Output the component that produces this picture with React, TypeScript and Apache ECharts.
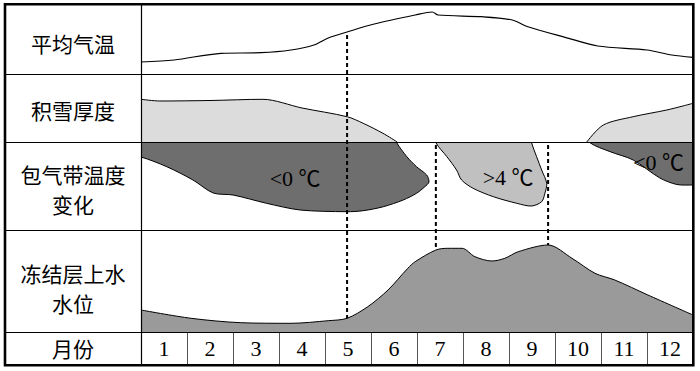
import React, { useEffect, useRef } from "react";
import * as echarts from "echarts";

// ---------- data ----------
const months = ["1", "2", "3", "4", "5", "6", "7", "8", "9", "10", "11", "12"];

const tempMonths = [0, 0.72, 1.74, 2.61, 3.26, 3.76, 4.07, 4.48, 5.07, 5.96, 6.33, 6.46, 7.41, 8.07, 8.41, 9.22, 9.93, 11.0, 11.54, 12];
const tempValues = [12, 14, 20.7, 21.3, 24, 29, 36, 42, 50, 59, 62, 59, 57.3, 54, 47.3, 36.7, 28, 24, 19, 16.7];

const snowEarlyMonths = [0, 0.41, 1.5, 2.65, 3.5, 4.48, 4.83, 5.26, 5.57];
const snowEarlyValues = [42.7, 41, 41.5, 42.7, 34, 25.3, 18.7, 8.7, 0];
const snowLateMonths = [9.69, 10.05, 10.7, 11.43, 11.78, 12];
const snowLateValues = [0, 17, 25.3, 32, 36, 38.7];

const coldEarlyMonths = [-0.3, 0, 0.56, 1.13, 1.57, 2.0, 2.73, 3.46, 4.47, 4.83, 5.27, 5.7, 5.99, 6.17, 6.26, 6.21, 5.99, 5.78, 5.56, 5.5, -0.3];
const coldEarlyValues = [75, 73, 63.3, 50, 37, 35, 26.7, 20, 18.3, 19.3, 23.3, 30, 36.7, 43.3, 48, 55, 63.3, 73.3, 87.3, 96, 96];
const warmMonths = [6.39, 6.41, 6.65, 6.86, 6.97, 7.22, 7.66, 8.17, 8.49, 8.71, 8.78, 8.82, 8.71, 8.6, 8.49, 8.46];
const warmValues = [96, 87.3, 73.3, 60, 50, 41.7, 33.3, 26.7, 24, 28.3, 36.7, 46.7, 60, 73.3, 87.3, 96];
const coldLateMonths = [9.7, 9.76, 10.2, 10.7, 11.28, 11.65, 12.0, 12.3, 12.3];
const coldLateValues = [96, 87.3, 78.3, 70, 52, 45.5, 45, 45, 96];

const waterMonths = [0, 1.09, 2.17, 3.26, 4.07, 4.48, 4.93, 5.37, 5.8, 5.96, 6.41, 6.67, 6.98, 7.26, 7.63, 7.91, 8.2, 8.85, 9.37, 9.87, 10.3, 11.02, 12];
const waterValues = [22, 13.7, 9.3, 8.7, 11.3, 13.7, 25.3, 42, 63.7, 70.3, 82, 83.7, 83.7, 75.3, 71, 73.7, 80.3, 87, 73.7, 58.7, 52, 37, 17];

const blobLabels = ["<0 ℃", ">4 ℃", "<0 ℃"];
const rowLabels = [["平均气温"], ["积雪厚度"], ["包气带温度", "变化"], ["冻结层上水", "水位"], ["月份"]];
const dividerMonths = [4.48, 6.41, 8.85];

// ---------- layout ----------
const OUT_L = 5;
const COL = 141;
const PLOT_W = 552;
const RIGHT = COL + PLOT_W;
const ROWS = [4, 74, 142, 230, 332, 365];
const Y_MAX = [70, 68, 88, 102];
const SERIF = "'Liberation Serif', 'Noto Sans CJK SC', serif";

const zip = (a: number[], b: number[]) => a.map((m, i) => [m, b[i]]);

export default function App() {
  const ref = useRef<HTMLDivElement>(null);
  useEffect(() => {
    const chart = echarts.init(ref.current!, null, { renderer: "svg" });
    const grids = [0, 1, 2, 3, 4].map((i) => ({
      left: COL,
      top: ROWS[i],
      width: PLOT_W,
      height: ROWS[i + 1] - ROWS[i],
      show: false,
    }));
    const hiddenValueX = (i: number) => ({
      type: "value", gridIndex: i, min: 0, max: 12, show: false,
    });
    const xAxes: any[] = [0, 1, 2, 3].map(hiddenValueX);
    xAxes.push({
      type: "category",
      gridIndex: 4,
      data: months,
      boundaryGap: true,
      position: "top",
      axisLine: { show: false },
      axisTick: { show: false },
      splitLine: { show: true, lineStyle: { color: "#555", width: 1 } },
      axisLabel: {
        inside: true,
        margin: 16,
        verticalAlign: "middle",
        color: "#000",
        fontSize: 22,
        fontFamily: SERIF,
      },
    });
    const yAxes: any[] = [0, 1, 2, 3, 4].map((i) => ({
      type: "value", gridIndex: i, min: 0, max: i < 4 ? Y_MAX[i] : 1, show: false,
    }));

    const blobs = [
      { m: coldEarlyMonths, v: coldEarlyValues, color: "#6e6e6e", label: blobLabels[0], at: [3.35, 52] },
      { m: warmMonths, v: warmValues, color: "#c0c0c0", label: blobLabels[1], at: [7.98, 53] },
      { m: coldLateMonths, v: coldLateValues, color: "#6e6e6e", label: blobLabels[2], at: [11.25, 68] },
    ];

    const lineBase = { type: "line", symbol: "none", smooth: 0.3, silent: true };
    chart.setOption({
      animation: false,
      grid: grids,
      xAxis: xAxes,
      yAxis: yAxes,
      series: [
        { ...lineBase, xAxisIndex: 0, yAxisIndex: 0, data: zip(tempMonths, tempValues), lineStyle: { color: "#000", width: 1.2 } },
        { ...lineBase, xAxisIndex: 1, yAxisIndex: 1, data: zip(snowEarlyMonths, snowEarlyValues), lineStyle: { color: "#000", width: 1 }, areaStyle: { color: "#dcdcdc", opacity: 1 } },
        { ...lineBase, xAxisIndex: 1, yAxisIndex: 1, data: zip(snowLateMonths, snowLateValues), lineStyle: { color: "#000", width: 1 }, areaStyle: { color: "#dcdcdc", opacity: 1 } },
        { ...lineBase, xAxisIndex: 3, yAxisIndex: 3, data: zip(waterMonths, waterValues), lineStyle: { color: "#000", width: 1 }, areaStyle: { color: "#9a9a9a", opacity: 1 } },
        {
          type: "custom",
          xAxisIndex: 2,
          yAxisIndex: 2,
          clip: true,
          silent: true,
          data: blobs.map((b) => b.at),
          renderItem: (params: any, api: any) => {
            const b = blobs[params.dataIndex];
            const pts = b.m.map((m, k) => api.coord([m, b.v[k]]));
            const lp = api.coord(b.at);
            return {
              type: "group",
              children: [
                { type: "polygon", shape: { points: pts, smooth: 0.3 }, style: { fill: b.color, stroke: "#000", lineWidth: 1 } },
                { type: "text", x: lp[0], y: lp[1], style: { text: b.label, font: "22px " + SERIF, fill: "#000", align: "center", verticalAlign: "middle" } },
              ],
            };
          },
        },
      ],
    });

    // table lines, labels and dotted guides
    const g: any[] = [];
    ROWS.slice(1, 5).forEach((y) => {
      g.push({ type: "line", z: 50, shape: { x1: OUT_L, y1: y + 0.5, x2: RIGHT, y2: y + 0.5 }, style: { stroke: "#000", lineWidth: 1 } });
    });
    g.push({ type: "line", z: 50, shape: { x1: COL + 0.5, y1: ROWS[0], x2: COL + 0.5, y2: ROWS[5] }, style: { stroke: "#000", lineWidth: 1.2 } });
    g.push({ type: "rect", z: 60, shape: { x: OUT_L, y: ROWS[0] + 0.3, width: RIGHT - OUT_L + 0.3, height: ROWS[5] - ROWS[0] }, style: { fill: "none", stroke: "#000", lineWidth: 2.6 } });

    const labelY = [[43], [110], [174, 204], [273, 303], [348]];
    rowLabels.forEach((lines, r) => {
      lines.forEach((t, k) => {
        g.push({ type: "text", z: 70, x: 73, y: labelY[r][k], style: { text: t, font: "21px 'Noto Sans CJK SC', sans-serif", fill: "#000", align: "center", verticalAlign: "middle" } });
      });
    });

    dividerMonths.forEach((m, i) => {
      const top = i === 0
        ? chart.convertToPixel({ gridIndex: 0 } as any, [m, tempValues[tempMonths.indexOf(m)]]) as number[]
        : chart.convertToPixel({ gridIndex: 2 } as any, [m, Y_MAX[2]]) as number[];
      const bottom = chart.convertToPixel({ gridIndex: 3 } as any, [m, waterValues[waterMonths.indexOf(m)]]) as number[];
      g.push({ type: "line", z: 80, shape: { x1: top[0], y1: top[1] + 3, x2: bottom[0], y2: bottom[1] }, style: { stroke: "#000", lineWidth: 2, lineDash: [4, 3] } });
    });
    chart.setOption({ graphic: g });

    return () => chart.dispose();
  }, []);
  return <div ref={ref} style={{ position: "fixed", left: 0, top: 0, width: 700, height: 371, background: "#fff" }} />;
}
